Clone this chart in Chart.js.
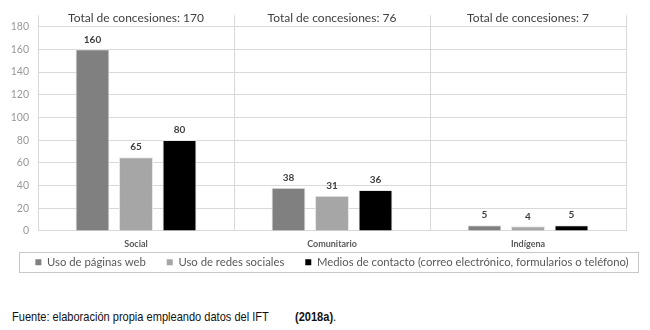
<!DOCTYPE html>
<html>
<head>
<meta charset="utf-8">
<script src="https://cdn.jsdelivr.net/npm/chart.js@4/dist/chart.umd.min.js"></script>
<style>
  html, body { margin: 0; padding: 0; background: #fff; }
  #wrap { position: absolute; left: 0; top: 0; width: 650px; height: 300px; }
  .note { position: absolute; top: 309px; font-family: "Liberation Sans Narrow", "Liberation Sans", sans-serif; font-size: 13px; color: #111; white-space: pre; transform-origin: 0 0; transform: scaleX(0.85); }
</style>
</head>
<body>
<div id="wrap"><canvas id="c"></canvas></div>
<div class="note" style="left:12px">Fuente: elaboración propia empleando datos del IFT</div>
<div class="note" style="left:295px; font-weight:bold">(2018a)<span style="font-weight:normal">.</span></div>
<script>
const categories = ["Social", "Comunitario", "Indígena"];
const totals = [170, 76, 7];
const seriesNames = ["Uso de páginas web", "Uso de redes sociales", "Medios de contacto (correo electrónico, formularios o teléfono)"];
const paginasWeb = [160, 38, 5];
const redesSociales = [65, 31, 4];
const mediosContacto = [80, 36, 5];
const yTicks = [0, 20, 40, 60, 80, 100, 120, 140, 160, 180];

const FONT = "Lato, 'Open Sans', sans-serif";
const LEGEND_SHIFT = 22;

const extras = {
  id: 'extras',
  afterLayout(chart) {
    const lg = chart.legend;
    if (lg) {
      lg.top -= LEGEND_SHIFT; lg.bottom -= LEGEND_SHIFT;
      lg.left += 7; lg.right += 7;
    }
  },
  afterDatasetsDraw(chart) {
    const ctx = chart.ctx;
    const xs = chart.scales.x, ys = chart.scales.y;
    ctx.save();
    ctx.font = "12px " + FONT;
    ctx.fillStyle = "#404040";
    ctx.textAlign = "center";
    ctx.textBaseline = "middle";
    categories.forEach((c, i) => {
      ctx.fillText("Total de concesiones: " + totals[i], xs.getPixelForValue(i), ys.getPixelForValue(180) - 9);
    });
    ctx.font = "bold 10px " + FONT;
    ctx.fillStyle = "#404040";
    ctx.textBaseline = "bottom";
    chart.data.datasets.forEach((ds, di) => {
      const meta = chart.getDatasetMeta(di);
      meta.data.forEach((bar, i) => {
        ctx.fillText(String(ds.data[i]), bar.x, bar.y - 5);
      });
    });
    ctx.restore();
  },
  afterDraw(chart) {
    const lg = chart.legend;
    if (!lg || !lg.legendHitBoxes || !lg.legendHitBoxes.length) return;
    const ctx = chart.ctx;
    const hb = lg.legendHitBoxes[0];
    const cy = hb.top + hb.height / 2;
    ctx.save();
    ctx.strokeStyle = "#c8c8c8";
    ctx.lineWidth = 1;
    ctx.strokeRect(19.5, Math.round(cy - 10) + 0.5, 619, 20);
    ctx.restore();
  }
};

new Chart(document.getElementById('c'), {
  type: 'bar',
  data: {
    labels: categories,
    datasets: [
      { label: seriesNames[0], data: paginasWeb, backgroundColor: '#808080', borderColor: '#e6e6e6', borderWidth: 1 },
      { label: seriesNames[1], data: redesSociales, backgroundColor: '#a6a6a6', borderColor: '#e6e6e6', borderWidth: 1 },
      { label: seriesNames[2], data: mediosContacto, backgroundColor: '#000000', borderColor: '#e6e6e6', borderWidth: 1 }
    ]
  },
  options: {
    responsive: true,
    maintainAspectRatio: false,
    animation: false,
    devicePixelRatio: 1,
    layout: { padding: { left: 0, right: 0, top: 11, bottom: 0 } },
    datasets: { bar: { categoryPercentage: 0.666, barPercentage: 0.78 } },
    plugins: {
      tooltip: { enabled: false },
      legend: {
        position: 'bottom',
        labels: {
          font: { family: FONT, size: 11.3 },
          color: '#595959',
          boxWidth: 6,
          boxHeight: 6,
          padding: 21,
          generateLabels(chart) {
            return chart.data.datasets.map((ds, i) => ({
              text: ds.label, fillStyle: ds.backgroundColor, strokeStyle: ds.backgroundColor,
              lineWidth: 0, hidden: false, datasetIndex: i, fontColor: '#595959'
            }));
          }
        }
      }
    },
    scales: {
      x: {
        offset: true,
        grid: { offset: true, color: '#d9d9d9', drawTicks: false },
        border: { color: '#d9d9d9' },
        ticks: { font: { family: FONT, size: 9, weight: 'bold' }, color: '#595959', padding: 8 }
      },
      y: {
        min: 0,
        max: 190,
        afterBuildTicks(scale) { scale.ticks = yTicks.map(v => ({ value: v })); },
        afterFit(scale) { scale.width = 38; },
        grid: { color: '#d9d9d9', drawTicks: false },
        border: { display: false },
        ticks: { font: { family: FONT, size: 10.5 }, color: '#999999', padding: 9 }
      },
      yRight: {
        position: 'right',
        display: true,
        afterFit(scale) { scale.width = 24; },
        grid: { display: false },
        border: { display: false },
        ticks: { display: false }
      }
    }
  },
  plugins: [extras]
});
</script>
</body>
</html>
